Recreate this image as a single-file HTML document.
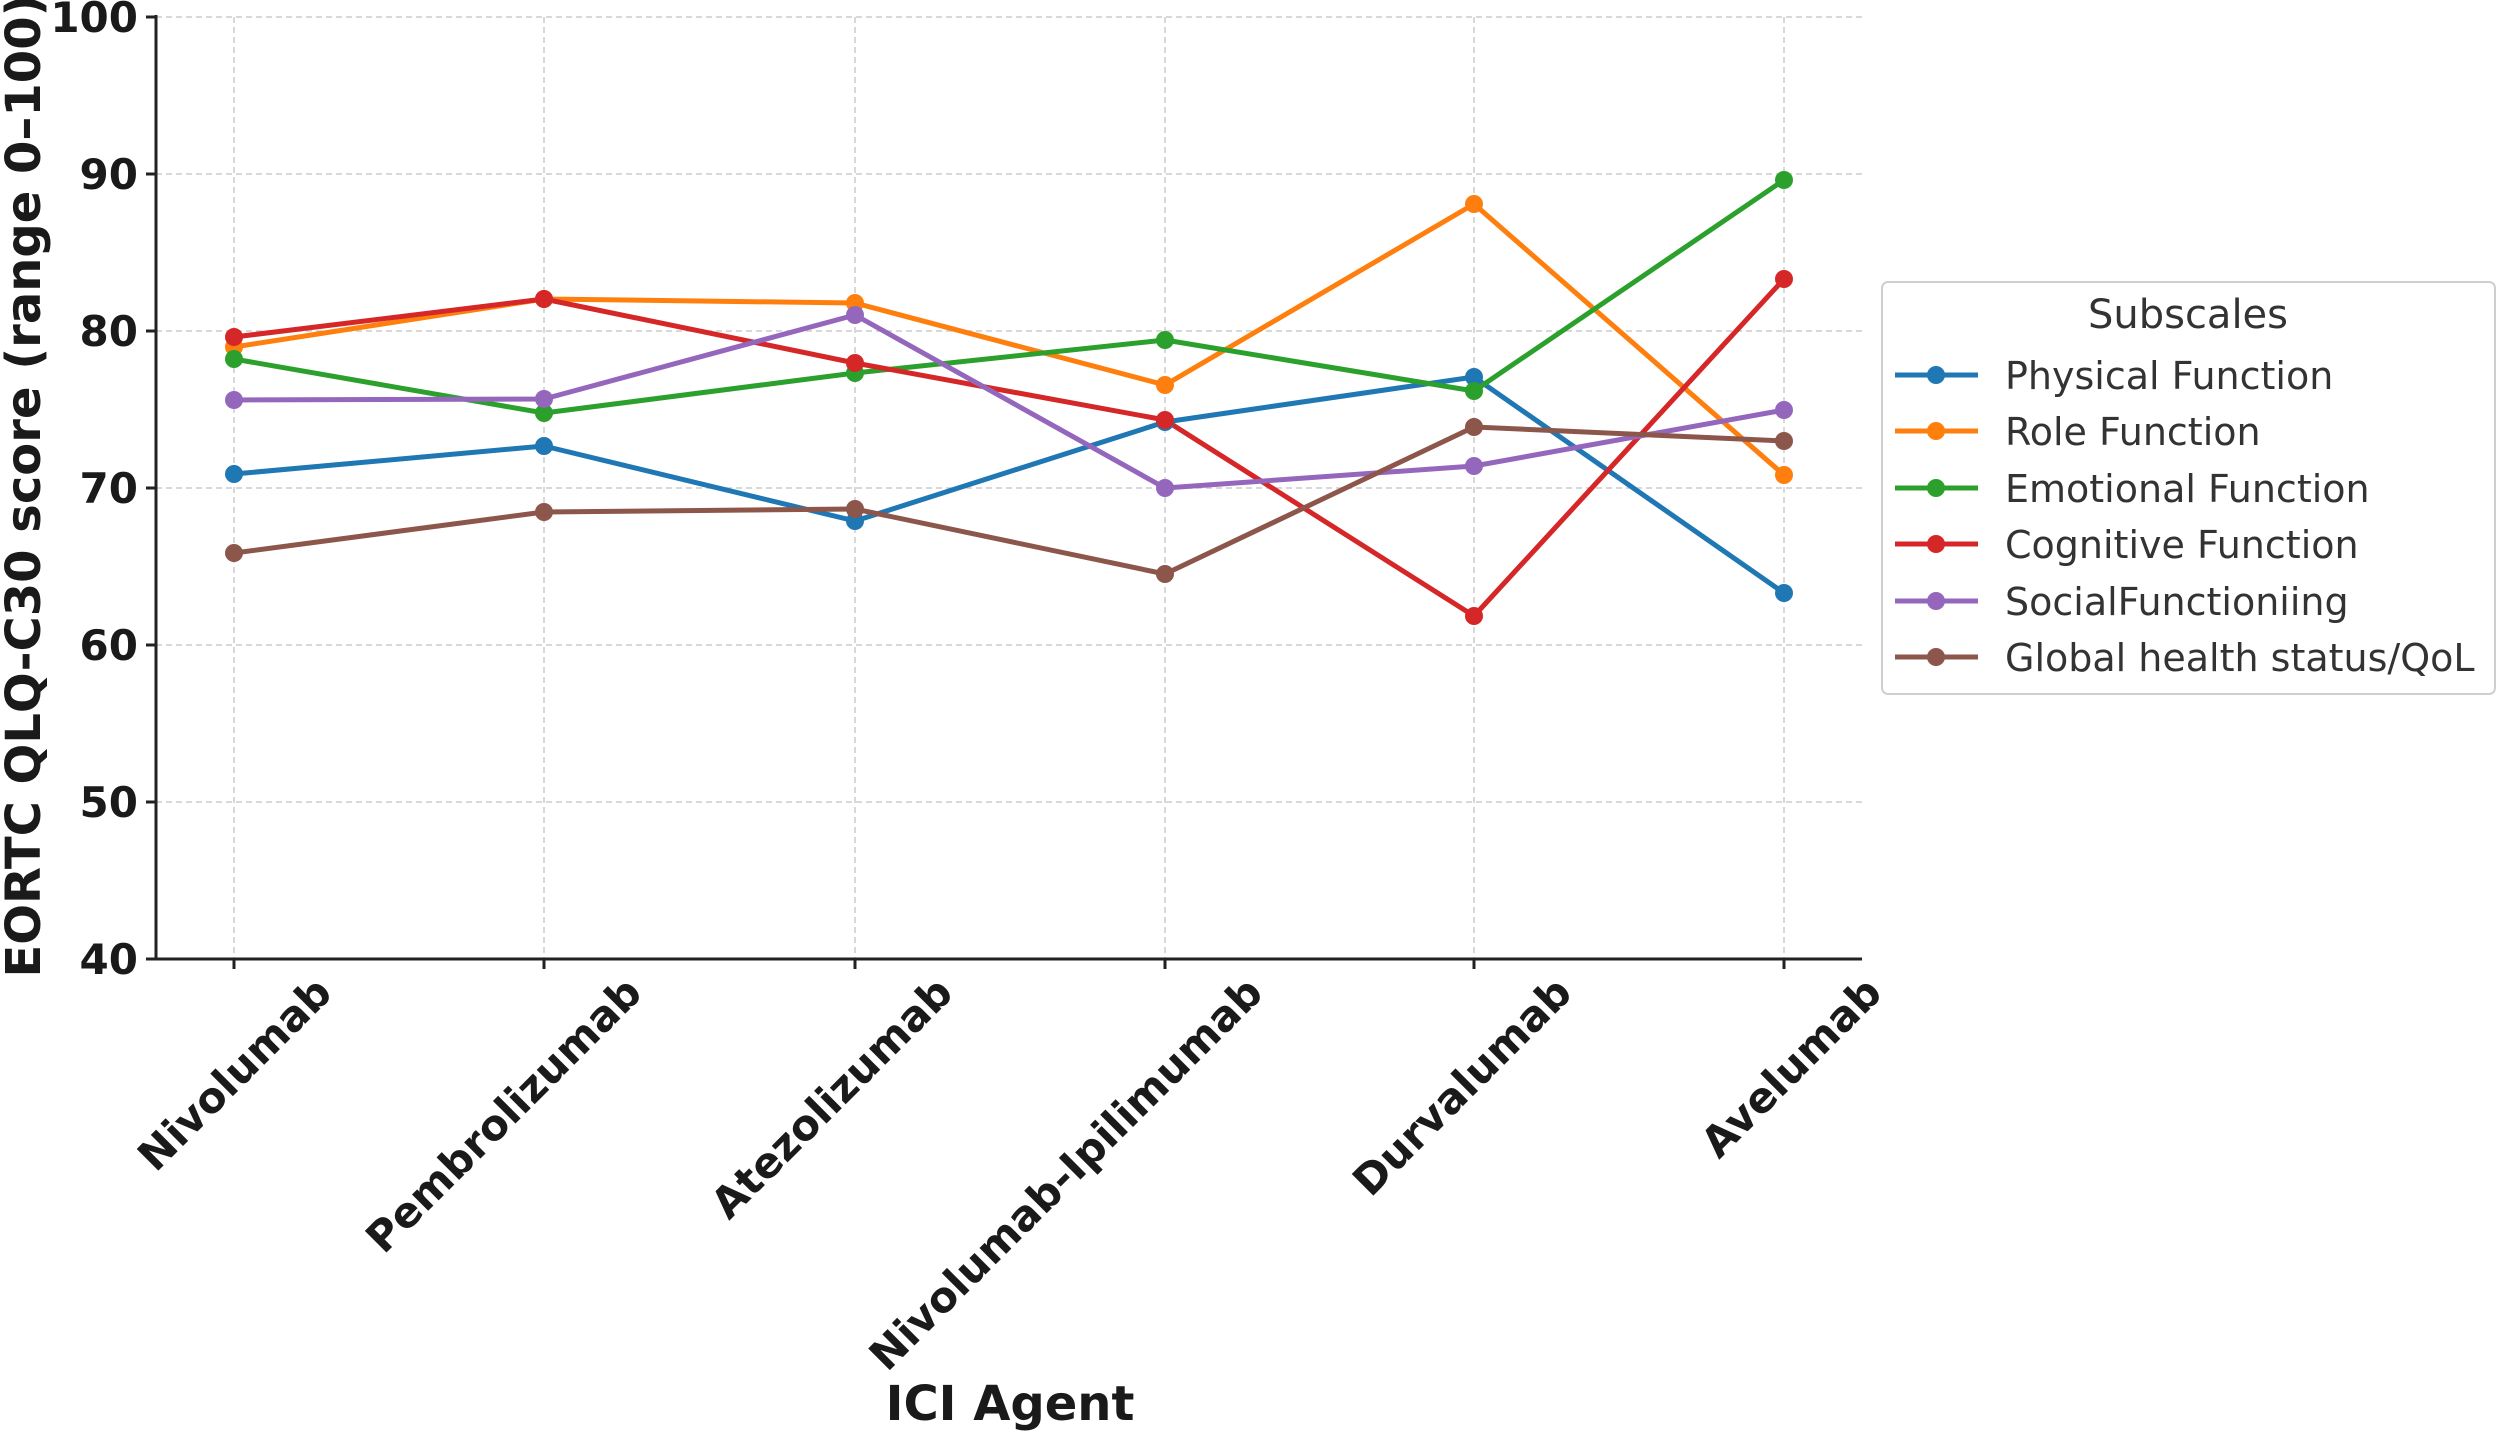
<!DOCTYPE html>
<html><head><style>body{margin:0;background:#fff}</style></head><body>
<svg width="2500" height="1432" xmlns="http://www.w3.org/2000/svg" font-family="'DejaVu Sans','Liberation Sans',sans-serif">
<rect width="2500" height="1432" fill="#fff"/>
<g stroke="#cccccc" stroke-width="1.5" stroke-dasharray="6,4">
<line x1="156" x2="1862" y1="17" y2="17"/><line x1="156" x2="1862" y1="174" y2="174"/><line x1="156" x2="1862" y1="331" y2="331"/><line x1="156" x2="1862" y1="488" y2="488"/><line x1="156" x2="1862" y1="645" y2="645"/><line x1="156" x2="1862" y1="802" y2="802"/>
<line x1="234" x2="234" y1="17" y2="959"/><line x1="544" x2="544" y1="17" y2="959"/><line x1="855" x2="855" y1="17" y2="959"/><line x1="1165" x2="1165" y1="17" y2="959"/><line x1="1474" x2="1474" y1="17" y2="959"/><line x1="1784" x2="1784" y1="17" y2="959"/>
</g>
<g stroke="#222" stroke-width="3">
<line x1="156" y1="15" x2="156" y2="960"/><line x1="155" y1="959" x2="1862" y2="959"/>
<line x1="146" x2="156" y1="17" y2="17"/><line x1="146" x2="156" y1="174" y2="174"/><line x1="146" x2="156" y1="331" y2="331"/><line x1="146" x2="156" y1="488" y2="488"/><line x1="146" x2="156" y1="645" y2="645"/><line x1="146" x2="156" y1="802" y2="802"/><line x1="146" x2="156" y1="959" y2="959"/>
<line x1="234" x2="234" y1="959" y2="969"/><line x1="544" x2="544" y1="959" y2="969"/><line x1="855" x2="855" y1="959" y2="969"/><line x1="1165" x2="1165" y1="959" y2="969"/><line x1="1474" x2="1474" y1="959" y2="969"/><line x1="1784" x2="1784" y1="959" y2="969"/>
</g>
<g font-size="42" font-weight="bold" fill="#1a1a1a" text-anchor="end">
<text x="138" y="32">100</text><text x="138" y="189">90</text><text x="138" y="346">80</text><text x="138" y="503">70</text><text x="138" y="660">60</text><text x="138" y="817">50</text><text x="138" y="974">40</text>
</g>
<g font-size="42" font-weight="bold" fill="#1a1a1a" text-anchor="end">
<text transform="translate(334,995) rotate(-45)">Nivolumab</text>
<text transform="translate(644,995) rotate(-45)">Pembrolizumab</text>
<text transform="translate(955,995) rotate(-45)">Atezolizumab</text>
<text transform="translate(1265,995) rotate(-45)">Nivolumab-Ipilimumab</text>
<text transform="translate(1574,995) rotate(-45)">Durvalumab</text>
<text transform="translate(1884,995) rotate(-45)">Avelumab</text>
</g>
<text x="1010" y="1420" font-size="48" font-weight="bold" text-anchor="middle" fill="#1a1a1a">ICI Agent</text>
<text transform="translate(40,486) rotate(-90)" font-size="48" font-weight="bold" text-anchor="middle" fill="#1a1a1a">EORTC QLQ-C30 score (range 0–100)</text>
<g fill="none" stroke-width="5" stroke-linejoin="round">
<polyline stroke="#1f77b4" points="234,474 544,446 855,521 1165,422 1474,377 1784,593"/>
<polyline stroke="#ff7f0e" points="234,347 544,299 855,303 1165,385 1474,204 1784,475"/>
<polyline stroke="#2ca02c" points="234,359 544,413 855,373 1165,340 1474,391 1784,180"/>
<polyline stroke="#d62728" points="234,337 544,299 855,363 1165,420 1474,616 1784,279"/>
<polyline stroke="#9467bd" points="234,400 544,399 855,315 1165,488 1474,466 1784,410"/>
<polyline stroke="#8c564b" points="234,553 544,512 855,509 1165,574 1474,427 1784,441"/>
</g>
<g fill="#1f77b4"><circle cx="234" cy="474" r="9"/><circle cx="544" cy="446" r="9"/><circle cx="855" cy="521" r="9"/><circle cx="1165" cy="422" r="9"/><circle cx="1474" cy="377" r="9"/><circle cx="1784" cy="593" r="9"/></g>
<g fill="#ff7f0e"><circle cx="234" cy="347" r="9"/><circle cx="544" cy="299" r="9"/><circle cx="855" cy="303" r="9"/><circle cx="1165" cy="385" r="9"/><circle cx="1474" cy="204" r="9"/><circle cx="1784" cy="475" r="9"/></g>
<g fill="#2ca02c"><circle cx="234" cy="359" r="9"/><circle cx="544" cy="413" r="9"/><circle cx="855" cy="373" r="9"/><circle cx="1165" cy="340" r="9"/><circle cx="1474" cy="391" r="9"/><circle cx="1784" cy="180" r="9"/></g>
<g fill="#d62728"><circle cx="234" cy="337" r="9"/><circle cx="544" cy="299" r="9"/><circle cx="855" cy="363" r="9"/><circle cx="1165" cy="420" r="9"/><circle cx="1474" cy="616" r="9"/><circle cx="1784" cy="279" r="9"/></g>
<g fill="#9467bd"><circle cx="234" cy="400" r="9"/><circle cx="544" cy="399" r="9"/><circle cx="855" cy="315" r="9"/><circle cx="1165" cy="488" r="9"/><circle cx="1474" cy="466" r="9"/><circle cx="1784" cy="410" r="9"/></g>
<g fill="#8c564b"><circle cx="234" cy="553" r="9"/><circle cx="544" cy="512" r="9"/><circle cx="855" cy="509" r="9"/><circle cx="1165" cy="574" r="9"/><circle cx="1474" cy="427" r="9"/><circle cx="1784" cy="441" r="9"/></g>
<rect x="1882" y="282" width="613" height="412" rx="6" fill="#fff" stroke="#cfcfcf" stroke-width="2"/>
<text x="2188" y="328" font-size="40" text-anchor="middle" fill="#333">Subscales</text>
<g stroke-width="5">
<line x1="1895" x2="1978" y1="375" y2="375" stroke="#1f77b4"/><line x1="1895" x2="1978" y1="431" y2="431" stroke="#ff7f0e"/><line x1="1895" x2="1978" y1="488" y2="488" stroke="#2ca02c"/><line x1="1895" x2="1978" y1="544" y2="544" stroke="#d62728"/><line x1="1895" x2="1978" y1="601" y2="601" stroke="#9467bd"/><line x1="1895" x2="1978" y1="657" y2="657" stroke="#8c564b"/>
</g>
<circle cx="1936" cy="375" r="9" fill="#1f77b4"/><circle cx="1936" cy="431" r="9" fill="#ff7f0e"/><circle cx="1936" cy="488" r="9" fill="#2ca02c"/><circle cx="1936" cy="544" r="9" fill="#d62728"/><circle cx="1936" cy="601" r="9" fill="#9467bd"/><circle cx="1936" cy="657" r="9" fill="#8c564b"/>
<g font-size="38" fill="#333">
<text x="2005" y="389">Physical Function</text><text x="2005" y="445">Role Function</text><text x="2005" y="502">Emotional Function</text><text x="2005" y="558">Cognitive Function</text><text x="2005" y="615">SocialFunctioniing</text><text x="2005" y="671">Global health status/QoL</text>
</g>
</svg>
</body></html>
